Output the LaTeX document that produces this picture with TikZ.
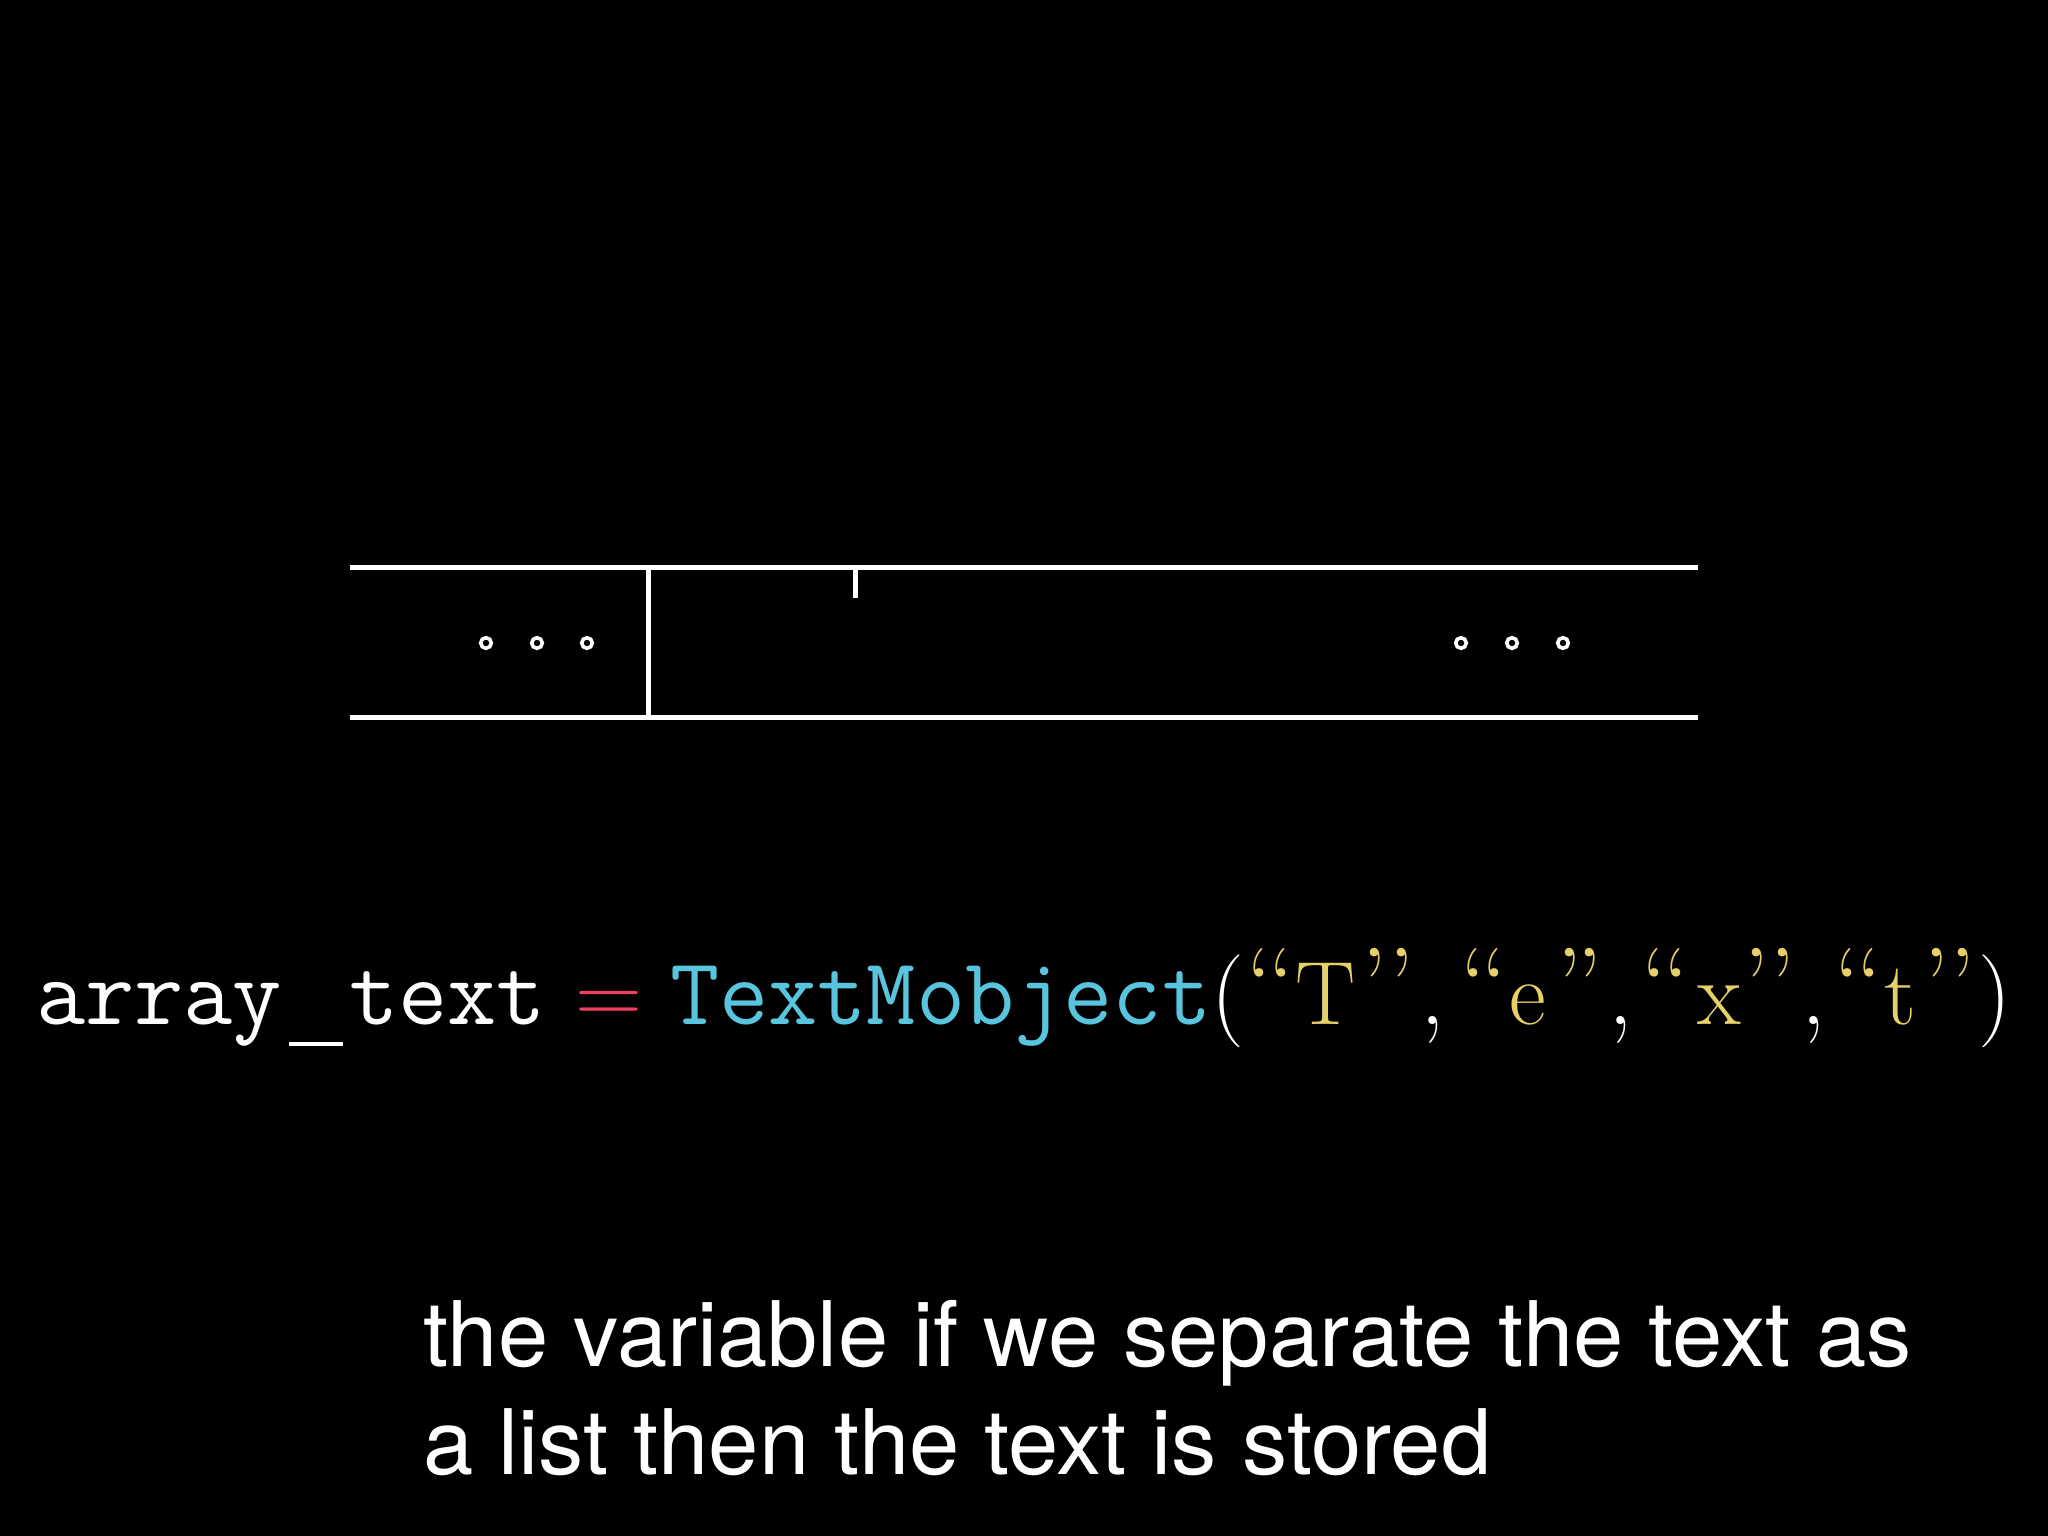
\documentclass[tikz,border=0pt]{standalone}
\usepackage{fontspec}
\newfontfamily\capfont{TeX Gyre Heros}
\definecolor{cred}{HTML}{F2405F}
\definecolor{cblue}{HTML}{58C4DD}
\definecolor{cyel}{HTML}{E6D06A}
\tikzset{
  wline/.style={draw=white, line width=5pt},
  dotc/.style={draw=white, line width=3.6pt},
  codetxt/.style={text=white, inner sep=0pt, anchor=base west, font=\fontsize{93}{110}\selectfont},
  tttxt/.style={codetxt, font=\ttfamily\fontsize{95.5}{110}\selectfont},
  quot/.style={text=cyel, inner sep=0pt, anchor=base, font=\fontsize{104}{110}\selectfont},
  letter/.style={text=cyel, inner sep=0pt, anchor=base, font=\fontsize{90}{110}\selectfont},
  comm/.style={text=white, inner sep=0pt, anchor=base, font=\fontsize{98}{110}\selectfont},
  captxt/.style={text=white, inner sep=0pt, anchor=base west, font=\capfont\fontsize{90.4}{108}\selectfont},
}
\begin{document}
\begin{tikzpicture}[x=1pt,y=-1pt]
\fill[black] (0,0) rectangle (2048,1536);
\useasboundingbox (0,0) rectangle (2048,1536);
% array box
\coordinate (tl) at (350,567);
\coordinate (tr) at (1698,567);
\coordinate (bl) at (350,717);
\coordinate (br) at (1698,717);
\coordinate (dt) at (648,567);
\coordinate (db) at (648,717);
\coordinate (kt) at (855,567);
\coordinate (kb) at (855,598);
\draw[wline] (tl) -- (tr);
\draw[wline] (bl) -- (br);
\draw[wline] (dt) -- (db);
\draw[wline] (kt) -- (kb);
\foreach \x in {486,537,587,1461,1512,1563}
  \draw[dotc] (\x,643) circle (5.3pt);
% code line
\node[tttxt] (arr) at (36,1024) {array};
\node[codetxt] (us) at (289,1024) {\rule[-22pt]{54pt}{3.6pt}};
\node[tttxt] (txt) at (349,1024) {text};
\node[codetxt, text=cred] (eq) at (575,1024) {=};
\node[tttxt, text=cblue] (tm) at (670,1024) {TextMobject};
\node[codetxt] (lp) at (1211,1024) {(};
\foreach \x/\c [count=\i] in {1259/‘,1281/‘,1374/’,1401/’,
                              1473/‘,1494/‘,1569/’,1589/’,
                              1654/‘,1676/‘,1756/’,1782/’,
                              1847/‘,1869/‘,1936/’,1962/’}
  \node[quot] (qm\i) at (\x,1020) {\c};
\foreach \x/\c [count=\i] in {1326/T,1528/e,1719/x,1900/t}
  \node[letter] (lt\i) at (\x,1024) {\c};
\foreach \x [count=\i] in {1433,1621,1814}
  \node[comm] (cm\i) at (\x,1024) {,};
\node[codetxt] (rp) at (1978,1024) {)};
% caption
\node[captxt] (cap1) at (423,1366) {the variable if we separate the text as};
\node[captxt] (cap2) at (423,1474) {a list then the text is stored};
\end{tikzpicture}
\end{document}
